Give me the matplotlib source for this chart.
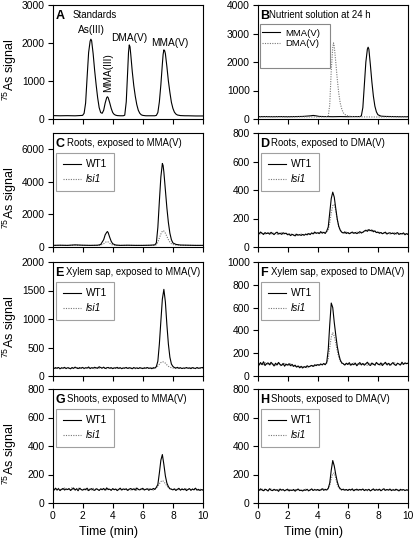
import numpy as np
import matplotlib
matplotlib.use("Agg")
import matplotlib.pyplot as plt
from matplotlib.patches import Rectangle

plt.rcParams['font.family'] = ['Liberation Sans', 'DejaVu Sans']
plt.rcParams['mathtext.fontset'] = 'custom'
plt.rcParams['mathtext.rm'] = 'Liberation Sans'

# ---------------- Panel A: standards ----------------
A_t = [0.0,0.5,1.0,1.5,2.0,2.1,2.2,2.3,2.4,2.5,2.55,2.6,2.7,2.8,2.9,3.0,3.1,3.2,3.3,3.4,
       3.5,3.6,3.65,3.7,3.8,3.9,4.0,4.1,4.2,4.3,4.5,4.7,4.8,4.9,5.0,5.05,5.1,5.15,5.2,5.3,
       5.4,5.5,5.6,5.7,5.8,5.9,6.0,6.2,6.5,6.8,6.9,7.0,7.1,7.2,7.3,7.35,7.4,7.45,7.5,7.6,
       7.7,7.8,7.9,8.0,8.1,8.2,8.3,8.5,8.8,9.0,9.5,10.0]
A_y = [90,85,88,84,95,150,420,1100,1750,2050,2100,2060,1720,1280,900,560,300,170,150,230,
       420,560,585,560,430,280,170,120,100,90,85,85,100,450,1300,1750,1950,1900,1700,1250,
       880,600,380,230,150,110,95,85,85,85,95,170,450,900,1450,1700,1820,1800,1720,1380,
       1000,700,440,280,180,130,105,90,85,85,80,80]
A_peak_labels = ["As(III)", "MMA(III)", "DMA(V)", "MMA(V)"]

# ---------------- Panel B: nutrient solution ----------------
B_t_mma = [0,0.5,1,1.5,2,2.5,3,3.5,3.7,3.9,4.1,4.5,5,5.5,6,6.5,6.8,6.9,7.0,7.1,
           7.2,7.3,7.35,7.4,7.5,7.6,7.7,7.8,7.9,8.0,8.2,8.5,9,9.5,10]
B_y_mma = [80,85,80,85,80,85,90,110,125,110,90,85,80,85,80,85,85,110,400,1200,
           2000,2450,2520,2450,1900,1300,800,450,250,150,100,90,85,80,80]
B_t_dma = [0,1,2,3,4,4.5,4.7,4.8,4.9,5.0,5.05,5.1,5.2,5.3,5.4,5.5,5.6,5.7,5.8,6.0,
           6.2,6.5,7,8,9,10]
B_y_dma = [70,75,70,75,70,75,90,500,1700,2500,2670,2550,2000,1400,900,550,350,220,160,110,
           90,80,75,70,75,70]

# ---------------- Panel C: roots, MMA(V) ----------------
C_t = [0,0.5,1,1.5,2,2.5,3,3.2,3.4,3.5,3.6,3.65,3.7,3.8,3.9,4.0,4.2,4.5,5,5.5,
       6,6.5,6.8,6.9,7.0,7.1,7.2,7.3,7.35,7.4,7.5,7.6,7.7,7.8,7.9,8.0,8.2,8.5,9,9.5,10]
C_wt = [100,110,100,130,110,100,110,150,450,750,900,950,880,600,350,200,120,100,110,100,
        100,110,130,250,1200,2800,4300,5130,5000,4600,3500,2400,1500,850,450,250,160,120,110,100,100]
C_lsi = [90,100,95,110,100,95,100,110,200,290,320,330,310,230,160,120,100,95,100,95,
         95,100,110,140,300,550,800,970,1010,980,850,650,450,300,200,150,120,105,100,95,95]

# ---------------- noisy panels, sampled every 0.1 min ----------------
T = np.linspace(0, 10, 101)

D_wt = [100,92,105,96,88,101,94,99,90,103, 95,87,98,104,91,96,89,100,93,97,
        86,92,80,89,84,78,90,83,87,81, 88,82,91,85,94,87,99,92,105,96,
        100,94,108,97,103,95,112,140,240,340, 385,350,270,195,145,118,104,98,106,95,
        101,93,99,105,96,102,94,100,108,98, 104,112,118,110,122,115,119,107,113,101,
        105,96,102,93,99,104,91,97,100,94, 98,90,96,101,88,95,92,99,86,94, 88]
D_lsi = [95,99,90,102,94,97,88,104,96,92, 100,93,96,88,99,94,102,90,97,91,
         89,84,93,86,82,90,79,88,85,91, 84,90,87,95,89,93,96,90,101,98,
         97,103,99,106,98,104,108,120,170,240, 290,300,255,190,140,115,102,100,97,104,
         96,103,98,94,101,97,105,99,95,103, 108,104,115,120,112,118,110,116,105,109,
         99,103,95,101,97,92,100,96,90,98, 95,100,93,89,97,91,96,88,93,90, 92]

E_wt = [140,132,147,135,150,128,143,137,152,131, 145,138,126,149,134,156,141,130,147,136,
        151,133,144,139,158,130,146,137,153,142, 135,162,148,139,155,131,144,150,136,147,
        129,143,137,152,134,146,128,141,138,150, 133,145,139,127,148,136,142,131,146,138,
        130,144,137,149,135,141,128,146,139,165, 260,560,960,1350,1520,1300,900,560,330,210,
        168,148,139,152,134,145,131,140,137,148, 136,143,129,147,138,132,149,135,141,146, 150]
E_lsi = [135,142,130,148,137,126,145,133,140,129, 139,147,132,141,128,144,136,150,131,143,
         137,128,149,135,142,131,146,139,127,144, 150,138,143,132,147,136,129,141,145,133,
         140,131,146,137,128,143,135,149,132,139, 145,130,141,136,148,127,142,134,139,131,
         143,136,128,147,133,140,145,131,138,150, 175,205,235,250,245,225,195,170,155,145,
         138,146,131,142,136,149,133,140,128,144, 139,131,147,135,142,129,144,137,133,141, 138]

F_wt = [110,95,118,100,125,92,108,115,98,120, 105,88,112,97,119,101,93,110,86,104,
        96,108,90,102,84,95,78,88,72,85, 70,82,75,90,79,87,93,84,98,91,
        100,94,106,97,110,99,120,230,450,640, 600,470,360,260,190,140,115,108,96,112,
        101,117,94,108,99,113,90,105,118,97, 110,95,107,121,100,92,114,103,96,119,
        104,98,115,92,107,120,99,111,94,106, 118,100,93,112,105,97,121,102,115,108, 112]
F_lsi = [102,114,96,109,91,117,104,99,112,95, 113,100,94,107,115,90,103,98,116,92,
         101,93,106,88,97,80,91,76,87,73, 81,77,86,72,84,91,80,95,88,100,
         93,105,98,102,96,108,112,150,250,340, 380,350,290,220,165,130,112,100,109,96,
         110,99,106,93,115,102,97,111,100,108, 96,113,101,94,118,105,99,110,92,107,
         115,100,96,109,103,117,93,106,112,98, 105,119,97,110,101,94,113,99,107,116, 104]

G_wt = [98,90,104,93,100,87,96,102,91,99, 94,101,88,97,105,92,99,86,103,95,
        90,98,93,104,87,96,101,92,89,100, 95,88,99,93,102,90,106,94,97,89,
        101,93,98,87,96,104,91,99,94,100, 88,97,102,93,99,90,105,95,92,98,
        103,91,96,100,89,98,94,102,95,110, 130,210,300,340,270,190,140,115,100,97,
        92,99,88,96,103,90,97,93,100,87, 95,101,89,98,92,104,90,96,88,94, 90]
G_lsi = [92,100,95,88,103,97,90,99,105,93, 100,96,91,108,94,89,102,97,110,92,
         97,93,101,88,99,95,92,103,90,96, 100,91,95,104,89,98,93,100,96,91,
         95,102,90,97,93,99,88,101,96,92, 99,94,90,100,96,103,89,97,93,101,
         94,98,91,99,102,93,97,90,100,105, 118,135,150,158,150,135,120,108,100,96,
         100,94,97,90,99,93,102,96,91,98, 93,99,90,97,102,94,96,89,99,92, 95]

H_wt = [95,88,99,91,86,97,92,84,100,90, 87,96,89,93,82,98,90,94,86,92,
        97,85,91,88,95,83,92,98,87,90, 84,93,89,96,86,91,99,88,94,90,
        95,87,92,100,89,96,91,103,140,230, 298,260,200,150,115,100,93,97,90,95,
        88,96,91,99,86,93,97,89,95,92, 98,87,94,90,96,85,92,99,88,94,
        91,97,86,93,100,89,95,90,98,87, 93,89,97,91,85,96,90,94,88,92, 90]
H_lsi = [88,94,90,97,92,86,95,89,93,98, 92,87,95,90,98,88,93,96,85,91,
         89,95,86,92,90,97,88,94,91,86, 93,88,97,90,85,94,92,89,96,91,
         88,95,90,94,98,92,97,100,125,170, 205,210,175,130,105,95,90,93,88,94,
         91,95,87,93,90,96,89,92,97,88, 94,90,96,86,92,95,89,93,91,97,
         88,93,90,96,92,87,94,89,95,91, 96,90,88,94,92,89,95,91,87,93, 90]

titles = {
    'A': "Standards",
    'B': "Nutrient solution at 24 h",
    'C': "Roots, exposed to MMA(V)",
    'D': "Roots, exposed to DMA(V)",
    'E': "Xylem sap, exposed to MMA(V)",
    'F': "Xylem sap, exposed to DMA(V)",
    'G': "Shoots, exposed to MMA(V)",
    'H': "Shoots, exposed to DMA(V)",
}
title_off = {'A': 0.13, 'B': 0.075, 'C': 0.095, 'D': 0.09, 'E': 0.088, 'F': 0.09,
             'G': 0.097, 'H': 0.09}
ylims = {'A': (3000, 1000), 'B': (4000, 1000), 'C': (7000, 2000), 'D': (800, 200),
         'E': (2000, 500), 'F': (1000, 200), 'G': (800, 200), 'H': (800, 200)}

W, H = 415, 539
fig = plt.figure(figsize=(W / 100, H / 100), dpi=100)

col_x = [52.5, 257.5]
col_w = 150.5
row_tb = [(5, 119), (133, 247), (262, 376), (389, 503)]

letters = [['A', 'B'], ['C', 'D'], ['E', 'F'], ['G', 'H']]
axes = {}
for r, (top, bot) in enumerate(row_tb):
    for c in range(2):
        L = letters[r][c]
        ax = fig.add_axes([col_x[c] / W, 1 - bot / H, col_w / W, (bot - top) / H])
        axes[L] = ax
        ymax, ystep = ylims[L]
        ax.set_xlim(0, 10)
        ax.set_ylim(0, ymax)
        ax.set_xticks(np.arange(0, 11, 2))
        ax.set_yticks(np.arange(0, ymax + 1, ystep))
        ax.tick_params(direction='out', length=3.5, width=0.8, labelsize=7.4, pad=2)
        for s in ax.spines.values():
            s.set_linewidth(0.8)
        if r < 3:
            ax.tick_params(labelbottom=False)
        else:
            ax.set_xlabel("Time (min)", fontsize=9, labelpad=2)
            ax.xaxis.set_label_coords(0.37, -0.2)
        if c == 0:
            ax.set_ylabel(r"$^{75}$As signal", fontsize=9, labelpad=2)
            ax.yaxis.set_label_coords(-0.225, 0.43)
        ax.text(0.02, 0.905, L, transform=ax.transAxes, fontsize=9, fontweight='bold',
                va='center', ha='left')
        ax.text(title_off[L], 0.91, titles[L], transform=ax.transAxes, fontsize=6.9,
                va='center', ha='left')

lw = 0.8
solid = dict(color='black', lw=lw)
dotted = dict(color='#777777', lw=lw, ls=(0, (1, 1.2)))

# A
ax = axes['A']
ax.plot(A_t, A_y, **solid)
ax.text(2.6, 2330, A_peak_labels[0], fontsize=7.3, ha='center', va='center')
ax.text(3.67, 1220, A_peak_labels[1], fontsize=7.3, ha='center', va='center', rotation=90)
ax.text(5.1, 2130, A_peak_labels[2], fontsize=7.3, ha='center', va='center')
ax.text(7.8, 2010, A_peak_labels[3], fontsize=7.3, ha='center', va='center')

legkw = dict(loc='upper left', fontsize=7.3, frameon=True, fancybox=False,
             edgecolor='#888888', handlelength=1.8, borderpad=0.65, labelspacing=0.5,
             handletextpad=0.5, borderaxespad=0)

# B
ax = axes['B']
ax.plot(B_t_mma, B_y_mma, label='MMA(V)', **solid)
ax.plot(B_t_dma, B_y_dma, label='DMA(V)', **dotted)
ax.add_patch(Rectangle((0.017, 0.447), 0.463, 0.386, transform=ax.transAxes,
                       fill=False, edgecolor='#888888', lw=0.8, zorder=4))
ax.legend(loc='upper left', bbox_to_anchor=(0.02, 0.81), fontsize=6.8, frameon=False,
          handlelength=1.9, labelspacing=0.2, handletextpad=0.5, borderpad=0.2,
          borderaxespad=0)

pairs = {'C': (C_t, C_wt, C_lsi), 'D': (T, D_wt, D_lsi), 'E': (T, E_wt, E_lsi),
         'F': (T, F_wt, F_lsi), 'G': (T, G_wt, G_lsi), 'H': (T, H_wt, H_lsi)}
for L, (t, wt, lsi) in pairs.items():
    ax = axes[L]
    ax.plot(t, lsi, label='lsi1', **dotted)
    ax.plot(t, wt, label='WT1', **solid)
    h, l = ax.get_legend_handles_labels()
    lg = ax.legend([h[1], h[0]], ['WT1', 'lsi1'], bbox_to_anchor=(0.023, 0.826), **legkw)
    lg.get_frame().set_linewidth(0.8)
    lg.get_texts()[1].set_fontstyle('italic')

fig.savefig('out.png', dpi=100)
